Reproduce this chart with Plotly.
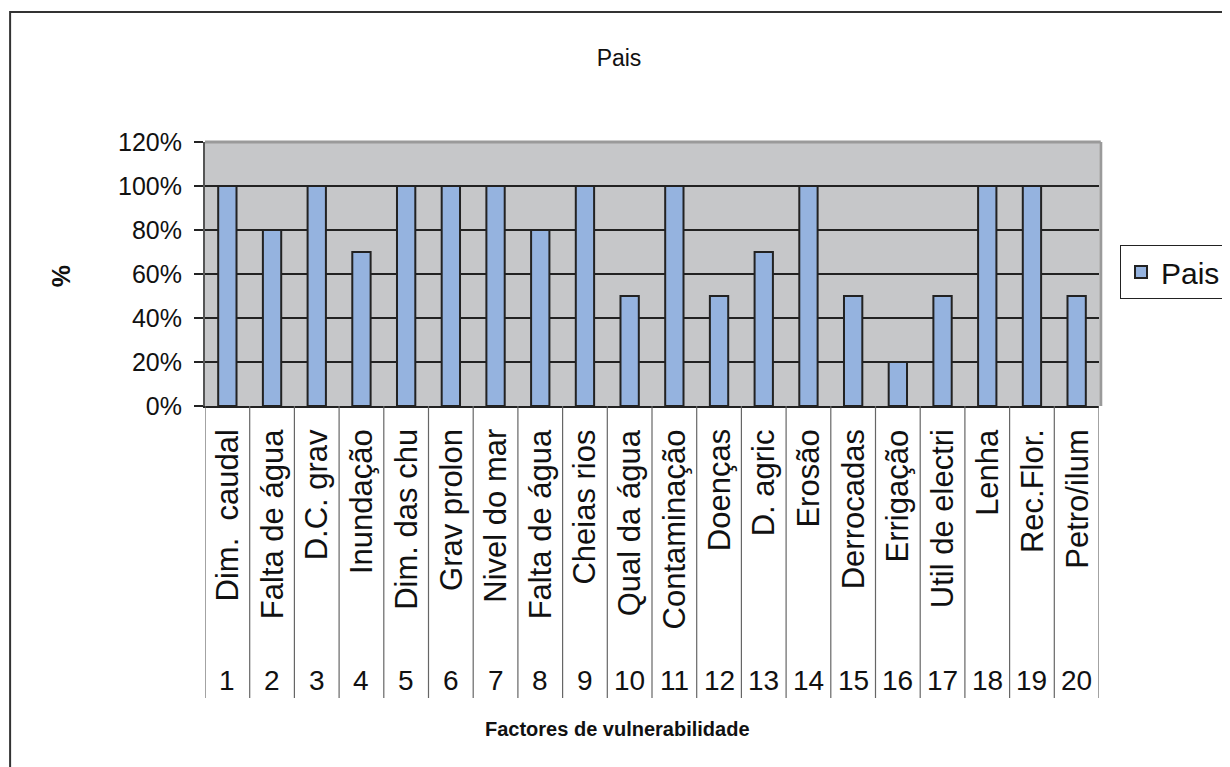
import plotly.graph_objects as go

numbers = list(range(1, 21))
names = ["Dim.  caudal", "Falta de água", "D.C. grav", "Inundação", "Dim. das chu",
         "Grav prolon", "Nivel do mar", "Falta de água", "Cheias rios", "Qual da água",
         "Contaminação", "Doenças", "D. agric", "Erosão", "Derrocadas",
         "Errigação", "Util de electri", "Lenha", "Rec.Flor.", "Petro/ilum"]
values = [1.0, 0.8, 1.0, 0.7, 1.0, 1.0, 1.0, 0.8, 1.0, 0.5,
          1.0, 0.5, 0.7, 1.0, 0.5, 0.2, 0.5, 1.0, 1.0, 0.5]
ytick_vals = [0, 0.2, 0.4, 0.6, 0.8, 1.0, 1.2]
ytick_text = ["0%", "20%", "40%", "60%", "80%", "100%", "120%"]

FONT = "Liberation Sans, Arial, sans-serif"
OFF = 8  # default page body margin

fig = go.Figure()
fig.add_trace(go.Bar(
    x=numbers, y=values, name="Pais", width=0.41,
    marker=dict(color="#95b3df", line=dict(color="#222222", width=2)),
    showlegend=True,
))

shapes = []
for k in range(len(numbers) + 1):
    xv = numbers[0] - 0.5 + k
    shapes.append(dict(type="line", xref="x", yref="paper", x0=xv, x1=xv,
                       y0=0, y1=-1.106, line=dict(color="#666666", width=1.2)))
shapes.append(dict(type="line", xref="paper", yref="paper", x0=0, x1=1.002, y0=1, y1=1,
                   line=dict(color="#9a9a9a", width=3), layer="above"))
shapes.append(dict(type="line", xref="paper", yref="paper", x0=1.002, x1=1.002, y0=0, y1=1,
                   line=dict(color="#9a9a9a", width=3), layer="above"))
shapes.append(dict(type="rect", xref="paper", yref="paper", x0=-0.218, x1=1.2, y0=-1.5, y1=1.492,
                   line=dict(color="#333333", width=2), layer="below"))

annotations = []
for n, name in zip(numbers, names):
    annotations.append(dict(x=n, y=-0.08, xref="x", yref="paper", text=name, textangle=-90,
                            showarrow=False, xanchor="center", yanchor="top",
                            font=dict(family=FONT, size=31, color="#111111")))
    annotations.append(dict(x=n, y=-1.038, xref="x", yref="paper", text=str(n),
                            showarrow=False, xanchor="center", yanchor="middle",
                            font=dict(family=FONT, size=28, color="#111111")))
annotations.append(dict(x=0.461, y=-1.223, xref="paper", yref="paper", text="<b>Factores de vulnerabilidade</b>",
                        showarrow=False, xanchor="center", yanchor="middle",
                        font=dict(family=FONT, size=20, color="#111111")))
annotations.append(dict(x=-0.161, y=0.492, xref="paper", yref="paper", text="<b>%</b>", textangle=-90,
                        showarrow=False, xanchor="center", yanchor="middle",
                        font=dict(family=FONT, size=25, color="#111111")))

fig.update_layout(
    width=1230, height=767,
    margin=dict(l=205 - OFF, r=1230 - (205 - OFF) - 894, t=142 - OFF, b=767 - (142 - OFF) - 264),
    paper_bgcolor="white", plot_bgcolor="#c6c7c9",
    title=dict(text="Pais", x=(619 - OFF) / 1230, xanchor="center", y=1 - (58 - OFF) / 767, yanchor="middle",
               font=dict(family=FONT, size=23, color="#111111")),
    font=dict(family=FONT, color="#111111"),
    xaxis=dict(range=[0.5, 20.5], showticklabels=False, ticks="", showgrid=False,
               showline=True, linecolor="#222222", linewidth=1.5, zeroline=False),
    yaxis=dict(range=[0, 1.2], tickvals=ytick_vals, ticktext=ytick_text,
               tickfont=dict(family=FONT, size=25, color="#111111"),
               ticks="outside", ticklen=9, tickcolor="#222222", tickwidth=1.5,
               showgrid=True, gridcolor="#222222", gridwidth=1.5,
               showline=True, linecolor="#555555", linewidth=2, zeroline=False,
               ticklabelstandoff=7),
    legend=dict(x=1.0235, y=0.508, xanchor="left", yanchor="middle",
                bordercolor="#222222", borderwidth=1, bgcolor="white",
                font=dict(family=FONT, size=30, color="#111111"),
                itemwidth=30),
    shapes=shapes, annotations=annotations, bargap=0.5,
)

fig.write_html("out.html")
